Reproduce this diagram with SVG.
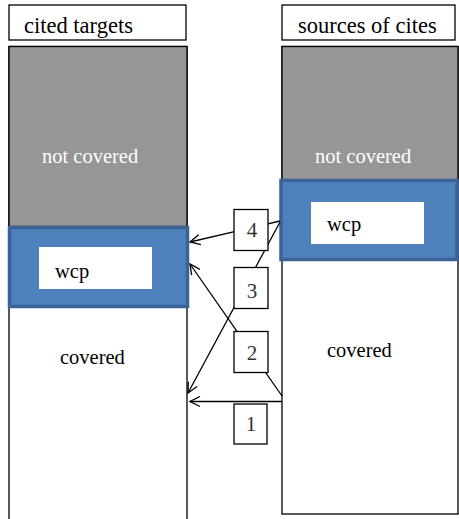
<svg xmlns="http://www.w3.org/2000/svg" width="459" height="519" viewBox="0 0 459 519">
<defs>
<style>
.box{fill:#fff;stroke:#000;stroke-width:1.3}
.gray{fill:#969696;stroke:#000;stroke-width:1.3}
.band{fill:#4f81bd;stroke:#3b6396;stroke-width:3.5}
.inner{fill:#fff}
.t{font-family:"Liberation Serif","DejaVu Serif","Times New Roman",serif;font-size:20.5px;fill:#000}
.h{font-size:22.5px}
.w{fill:#fff}
.num{font-family:"Liberation Serif","DejaVu Serif","Times New Roman",serif;font-size:21px;fill:#333;text-anchor:middle}
.c{fill:none;stroke:#000;stroke-width:1.3}
</style>
<marker id="ah" viewBox="0 0 12 12" refX="11" refY="6" markerWidth="12" markerHeight="12" markerUnits="userSpaceOnUse" orient="auto">
<polyline points="1,1 11,6 1,11" fill="none" stroke="#000" stroke-width="1.3"/>
</marker>
</defs>
<rect width="459" height="519" fill="#fff"/>

<g id="cited-targets">
<rect class="box" x="9" y="5" width="177" height="35"/>
<text class="t h" x="24" y="33">cited targets</text>
<rect class="box" x="9" y="46.5" width="178" height="480"/>
<rect class="gray" x="9" y="46.5" width="178" height="180"/>
<text class="t w" x="42" y="163">not covered</text>
<text class="t" x="60" y="364">covered</text>
</g>
<g id="cited-wcp">
<rect class="band" x="9.5" y="227.5" width="178" height="79"/>
<rect class="inner" x="39" y="247" width="113" height="42"/>
<text class="t" x="55" y="278">wcp</text>
</g>

<g id="sources-of-cites">
<rect class="box" x="282" y="5" width="173" height="35"/>
<text class="t h" x="298" y="33">sources of cites</text>
<rect class="box" x="282" y="46.5" width="176" height="467.5"/>
<rect class="gray" x="282" y="46.5" width="176" height="134"/>
<text class="t w" x="315" y="163">not covered</text>
<text class="t" x="327" y="357">covered</text>
</g>
<g id="sources-wcp">
<rect class="band" x="281" y="180.5" width="176" height="79"/>
<rect class="inner" x="311" y="202" width="113" height="42"/>
<text class="t" x="327" y="231">wcp</text>
</g>

<g id="connectors">
<line class="c" x1="280" y1="221" x2="190" y2="242" marker-end="url(#ah)"/>
<line class="c" x1="280" y1="222" x2="188" y2="393" marker-end="url(#ah)"/>
<line class="c" x1="282" y1="396" x2="190" y2="264" marker-end="url(#ah)"/>
<line class="c" x1="282" y1="401.5" x2="190" y2="401.5" marker-end="url(#ah)"/>
</g>

<g id="label-4"><rect class="box" x="234" y="209.5" width="34" height="41"/><text class="num" x="252" y="237">4</text></g>
<g id="label-3"><rect class="box" x="234" y="267.5" width="34" height="41"/><text class="num" x="252" y="298">3</text></g>
<g id="label-2"><rect class="box" x="234" y="331.5" width="34" height="41"/><text class="num" x="252" y="360">2</text></g>
<g id="label-1"><rect class="box" x="234" y="404" width="33" height="40"/><text class="num" x="251" y="431">1</text></g>
</svg>
